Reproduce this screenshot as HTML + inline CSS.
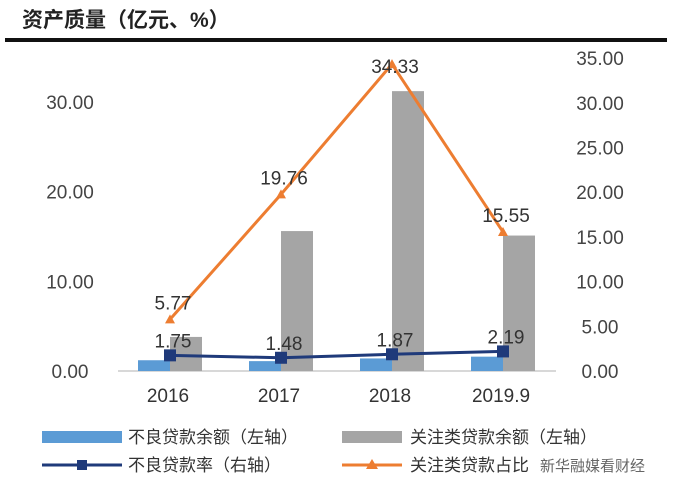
<!DOCTYPE html>
<html><head><meta charset="utf-8"><style>
body{margin:0;background:#fff;}
svg text{font-family:"Liberation Sans","Noto Sans CJK SC",sans-serif;}
</style></head><body>
<svg width="680" height="494" viewBox="0 0 680 494" xmlns="http://www.w3.org/2000/svg">
<text x="22" y="27" font-size="21" font-weight="bold" fill="#222">资产质量（亿元、%）</text>
<rect x="5" y="38" width="662" height="4" fill="#111"/>
<line x1="118" y1="371" x2="556" y2="371" stroke="#ccc" stroke-width="1.5"/>
<g id="g"></g>
<g>
<rect x="42" y="431" width="80" height="12" fill="#5b9bd5"/>
<text x="128" y="443" font-size="17" fill="#333">不良贷款余额（左轴）</text>
<rect x="342" y="431" width="60" height="12" fill="#a5a5a5"/>
<text x="410" y="443" font-size="17" fill="#333">关注类贷款余额（左轴）</text>
<line x1="42" y1="465" x2="122" y2="465" stroke="#1f3a7a" stroke-width="3"/>
<rect x="77" y="460" width="10" height="10" fill="#1f3a7a"/>
<text x="128" y="471" font-size="17" fill="#333">不良贷款率（右轴）</text>
<line x1="342" y1="465" x2="402" y2="465" stroke="#ed7d31" stroke-width="3"/>
<polygon points="372,459 378,469 366,469" fill="#ed7d31"/>
<text x="410" y="471" font-size="17" fill="#333">关注类贷款占比</text>
<text x="540" y="471" font-size="15" fill="#666">新华融媒看财经</text>
</g>
</svg>
<script>
const categories=["2016","2017","2018","2019.9"];
const nplBalance=[1.2,1.1,1.4,1.6];
const smBalance=[3.8,15.6,31.2,15.1];
const nplRate=[1.75,1.48,1.87,2.19];
const smRatio=[5.77,19.76,34.33,15.55];
const leftTicks=["0.00","10.00","20.00","30.00"];
const rightTicks=["0.00","5.00","10.00","15.00","20.00","25.00","30.00","35.00"];
const NS="http://www.w3.org/2000/svg";
const g=document.getElementById('g');
const yL=v=>371-v*8.97;
const yR=v=>371-v*8.94;
const xC=i=>170+i*111;
function mk(t,a,p){const e=document.createElementNS(NS,t);for(const k in a)e.setAttribute(k,a[k]);(p||g).appendChild(e);return e;}
leftTicks.forEach((t,i)=>{const e=mk('text',{x:70,y:yL(parseFloat(t))+7,'font-size':19,'text-anchor':'middle',fill:'#444'});e.textContent=t;

});
rightTicks.forEach(t=>{const e=mk('text',{x:600,y:yR(parseFloat(t))+7,'font-size':19,'text-anchor':'middle',fill:'#444'});e.textContent=t;

});
categories.forEach((c,i)=>{
const b=mk('rect',{x:xC(i)-32,y:yL(nplBalance[i]),width:32,height:nplBalance[i]*8.97,fill:'#5b9bd5'});


const s=mk('rect',{x:xC(i),y:yL(smBalance[i]),width:32,height:smBalance[i]*8.97,fill:'#a5a5a5'});


const t=mk('text',{x:xC(i)-2,y:402,'font-size':19,'text-anchor':'middle',fill:'#333'});t.textContent=c;


});
const op=mk('polyline',{points:smRatio.map((v,i)=>xC(i)+','+yR(v)).join(' '),fill:'none',stroke:'#ed7d31','stroke-width':3});


const bp=mk('polyline',{points:nplRate.map((v,i)=>xC(i)+','+yR(v)).join(' '),fill:'none',stroke:'#1f3a7a','stroke-width':3});


smRatio.forEach((v,i)=>{const x=xC(i),y=yR(v);
const m=mk('polygon',{points:`${x},${y-5} ${x+5},${y+4} ${x-5},${y+4}`,fill:'#ed7d31'});


const t=mk('text',{x:x+3,y:Math.max(y-10,73),'font-size':19,'text-anchor':'middle',fill:'#333'});t.textContent=v.toFixed(2);

});
nplRate.forEach((v,i)=>{const x=xC(i),y=yR(v);
const m=mk('rect',{x:x-6,y:y-6,width:12,height:12,fill:'#1f3a7a'});


const t=mk('text',{x:x+3,y:y-8,'font-size':19,'text-anchor':'middle',fill:'#333'});t.textContent=v.toFixed(2);

});
</script>
</body></html>
